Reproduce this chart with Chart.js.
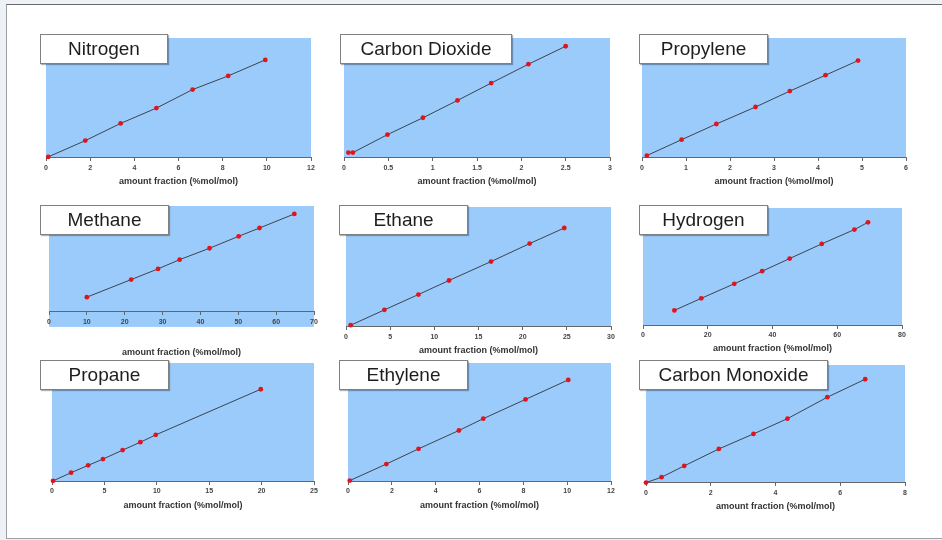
<!DOCTYPE html>
<html>
<head>
<meta charset="utf-8">
<script src="https://cdn.jsdelivr.net/npm/chart.js@4.4.1/dist/chart.umd.min.js"></script>
<style>
html, body { margin: 0; padding: 0; }
body { width: 942px; height: 540px; background: #eef2f6; position: relative; overflow: hidden; font-family: "Liberation Sans", Arial, sans-serif; }
#slide { position: absolute; left: 6px; top: 4px; width: 940px; height: 533px; background: #fff; border-top: 1px solid #666b70; border-left: 1px solid #9aa0a6; border-bottom: 1px solid #9aa0a6; }
canvas { position: absolute; }
.name { position: absolute; box-sizing: border-box; background: #fff; border: 1.5px solid #808080; box-shadow: 1px 1px 1px rgba(0,0,0,.3); font-size: 19px; color: #1e1e1e; text-align: center; line-height: 26px; padding-top: 1px; }
</style>
</head>
<body>
<div id="slide"></div>
<script>
// calibration gases, one small chart each
var gases = ['Nitrogen', 'Carbon Dioxide', 'Propylene', 'Methane', 'Ethane', 'Hydrogen', 'Propane', 'Ethylene', 'Carbon Monoxide'];
var xMax  = [12, 3, 6, 70, 30, 80, 25, 12, 8];
var xStep = [2, 0.5, 1, 10, 5, 20, 5, 2, 2];
var yMin  = [0, 0, 0, -14.2, 0, 0, 0, 0, 0];
var axisTitle = 'amount fraction (%mol/mol)';

// amount fraction (x) and detector response (y, no axis shown)
var nitrogenX = [0.1, 1.78, 3.38, 5.0, 6.64, 8.25, 9.93];
var nitrogenY = [0.6, 14.2, 28.6, 41.4, 56.9, 68.3, 81.7];
var co2X = [0.05, 0.10, 0.49, 0.89, 1.28, 1.66, 2.08, 2.50];
var co2Y = [4.2, 4.2, 19.2, 33.3, 47.8, 62.3, 78.1, 93.1];
var propyleneX = [0.11, 0.90, 1.69, 2.58, 3.36, 4.17, 4.91];
var propyleneY = [1.7, 15.0, 28.1, 42.3, 55.6, 68.9, 81.1];
var methaneX = [10.0, 21.7, 28.8, 34.5, 42.4, 50.1, 55.6, 64.8];
var methaneY = [13.9, 30.5, 40.6, 49.3, 60.1, 71.4, 79.2, 92.5];
var ethaneX = [0.53, 4.35, 8.2, 11.66, 16.42, 20.79, 24.71];
var ethaneY = [1.4, 14.2, 27.0, 38.7, 54.5, 69.5, 82.5];
var hydrogenX = [9.7, 18.0, 28.2, 36.8, 45.3, 55.2, 65.3, 69.5];
var hydrogenY = [12.7, 23.0, 35.4, 46.1, 56.9, 69.4, 81.6, 87.8];
var propaneX = [0.1, 1.82, 3.45, 4.86, 6.74, 8.43, 9.9, 19.92];
var propaneY = [0.3, 7.2, 13.4, 18.7, 26.3, 33.0, 39.2, 77.8];
var ethyleneX = [0.08, 1.75, 3.22, 5.06, 6.17, 8.1, 10.05];
var ethyleneY = [0.5, 14.5, 27.4, 42.9, 52.9, 69.2, 85.7];
var coX = [0.0, 0.48, 1.18, 2.25, 3.32, 4.37, 5.6, 6.77];
var coY = [0.0, 4.6, 14.2, 28.6, 41.4, 54.4, 72.6, 87.9];

var seriesX = [nitrogenX, co2X, propyleneX, methaneX, ethaneX, hydrogenX, propaneX, ethyleneX, coX];
var seriesY = [nitrogenY, co2Y, propyleneY, methaneY, ethaneY, hydrogenY, propaneY, ethyleneY, coY];

// page layout: plot area [left, top, right, bottom], name box [x1, y1, x2, y2], title gap
var plotBox = [
    [46, 38, 311, 158], [344, 38, 610, 158], [642, 38, 906, 158],
    [49, 206, 314, 327], [346, 207, 611, 327], [643, 208, 902, 326],
    [52, 363, 314, 482], [348, 363, 611, 482], [646, 365, 905, 483]
];
var nameBox = [
    [40, 34, 168, 64], [340, 34, 512, 64], [639, 34, 768, 64],
    [40, 205, 169, 235], [339, 205, 468, 235], [639, 205, 768, 235],
    [40, 360, 169, 390], [339, 360, 468, 390], [639, 360, 828, 390]
];
var titleGap = [18.6, 18.6, 18.6, 20.3, 18.3, 17.9, 19, 19, 18.6];

var PADX = 10, PADT = 4;
var FONT = '"Liberation Sans", Arial, sans-serif';

var blueBg = {
    id: 'blueBg',
    beforeDraw: function (chart) {
        var a = chart.chartArea, ctx = chart.ctx;
        ctx.save();
        ctx.fillStyle = '#9bcbfb';
        ctx.fillRect(a.left, a.top, a.right - a.left, a.bottom - a.top);
        ctx.restore();
    }
};

for (var i = 0; i < gases.length; i++) {
    var b = plotBox[i];
    var canvas = document.createElement('canvas');
    canvas.width = b[2] - b[0] + 2 * PADX;
    canvas.height = (b[3] - b[1]) + PADT + titleGap[i] + 10.8 + 2;
    canvas.style.left = (b[0] - PADX) + 'px';
    canvas.style.top = (b[1] - PADT) + 'px';
    document.body.appendChild(canvas);

    var pts = [];
    for (var j = 0; j < seriesX[i].length; j++) {
        pts.push({x: seriesX[i][j], y: seriesY[i][j]});
    }

    new Chart(canvas, {
        type: 'scatter',
        data: {
            datasets: [{
                label: gases[i],
                data: pts,
                showLine: true,
                clip: false,
                borderColor: '#3a4450',
                borderWidth: 1,
                pointRadius: 2.4,
                pointHoverRadius: 2.4,
                pointBackgroundColor: '#e1141e',
                pointBorderWidth: 0
            }]
        },
        options: {
            responsive: false,
            animation: false,
            events: [],
            layout: {padding: {left: PADX, right: PADX, top: PADT, bottom: 0}},
            plugins: {
                legend: {display: false},
                tooltip: {enabled: false},
                title: {
                    display: true,
                    position: 'bottom',
                    text: axisTitle,
                    color: '#333',
                    font: {family: FONT, size: 9, weight: 'bold'},
                    padding: {top: titleGap[i], bottom: 2}
                }
            },
            scales: {
                x: {
                    type: 'linear',
                    min: 0,
                    max: xMax[i],
                    position: {y: 0},
                    ticks: {
                        stepSize: xStep[i], autoSkip: false, maxRotation: 0, padding: 3,
                        color: '#444', font: {family: FONT, size: 7, weight: 'bold'},
                        callback: function (v) { return String(Math.round(v * 100) / 100); }
                    },
                    grid: {display: true, drawOnChartArea: false, drawTicks: true, tickLength: 3, color: '#666'},
                    border: {display: true, color: '#666', width: 1}
                },
                y: {display: false, min: yMin[i], max: 100}
            }
        },
        plugins: [blueBg]
    });
}

for (var k = 0; k < gases.length; k++) {
    var n = nameBox[k];
    var div = document.createElement('div');
    div.className = 'name';
    div.textContent = gases[k];
    div.style.left = n[0] + 'px';
    div.style.top = n[1] + 'px';
    div.style.width = (n[2] - n[0]) + 'px';
    div.style.height = (n[3] - n[1]) + 'px';
    document.body.appendChild(div);
}
</script>
</body>
</html>
